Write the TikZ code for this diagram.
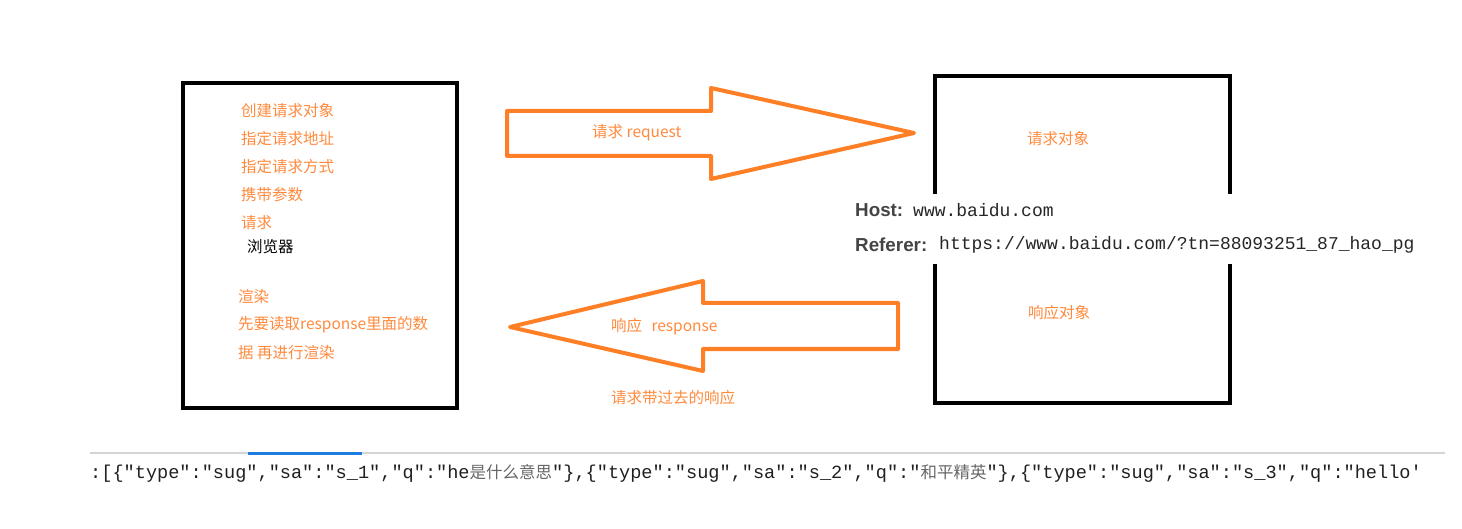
\documentclass[tikz,border=0pt]{standalone}
\usepackage{fontspec}
\newfontfamily\cjk{Noto Sans CJK SC}
\newfontfamily\hsans{Liberation Sans}
\setmonofont{Liberation Mono}
\definecolor{orng}{HTML}{FF7F27}
\definecolor{otext}{HTML}{FF8A3D}
\definecolor{hgray}{HTML}{444444}
\definecolor{cg}{HTML}{666666}
\definecolor{rule}{HTML}{D4D4D4}
\definecolor{tabblue}{HTML}{1E7BE0}
\begin{document}
\begin{tikzpicture}[x=1pt,y=-1pt,
  box/.style={draw=black,line width=4pt,inner sep=0pt},
  lbl/.style={font=\cjk\fontsize{15.5}{18}\selectfont,text=otext,anchor=west,inner sep=0pt},
  blockarrow/.style={draw=orng,line width=4pt,line join=round,fill=white},
  hdrlbl/.style={font=\hsans\bfseries\fontsize{18.8}{20}\selectfont,text=hgray,anchor=west,inner sep=0pt},
  hdrval/.style={font=\ttfamily\fontsize{18}{20}\selectfont,text=black!85,anchor=west,inner sep=0pt}]
\useasboundingbox (0,0) rectangle (1462,529);

% left box (browser)
\node[box,minimum width=274pt,minimum height=325pt] (browser) at (320,245.5) {};
\node[lbl] (l1) at (241,111) {创建请求对象};
\node[lbl] (l2) at (241,139) {指定请求地址};
\node[lbl] (l3) at (241,167) {指定请求方式};
\node[lbl] (l4) at (241,195) {携带参数};
\node[lbl] (l5) at (241,223) {请求};
\node[lbl,text=black] (l6) at (247,247) {浏览器};
\node[lbl] (l7) at (238,297) {渲染};
\node[lbl] (l8) at (238,325) {先要读取response里面的数};
\node[lbl] (l9) at (238,353) {据 再进行渲染};

% request arrow
\draw[blockarrow] (507,111) -- (711,111) -- (711,88) -- (914,133) -- (711,179) -- (711,156) -- (507,156) -- cycle;
\node[lbl] (req) at (592,133) {请求 request};

% response arrow
\draw[blockarrow] (898,303) -- (703,303) -- (703,281) -- (510,327) -- (703,371) -- (703,349) -- (898,349) -- cycle;
\node[lbl] (resp) at (611,327) {响应\hspace{0.6em}response};
\node[lbl] (resp2) at (611,398) {请求带过去的响应};

% right box (server)
\node[box,minimum width=295pt,minimum height=327pt] (server) at (1082.5,239.5) {};
\node[lbl] (r1) at (1027,139) {请求对象};
\node[lbl] (r2) at (1028,313) {响应对象};

% header overlay
\node[fill=white,inner sep=0pt,minimum width=580pt,minimum height=70pt] (hdr) at (1135,229.5) {};
\node[hdrlbl] (hostk) at (855,210) {Host:};
\node[hdrval] (hostv) at (913,210) {www.baidu.com};
\node[hdrlbl] (refk) at (855,245) {Referer:};
\node[hdrval] (refv) at (939,245) {https://www.baidu.com/?tn=88093251\_87\_hao\_pg};

% bottom strip
\draw[rule,line width=2pt] (90,453) -- (1445,453);
\draw[tabblue,line width=3pt] (248,453) -- (362,453);
\node[anchor=west,inner sep=0pt,font=\ttfamily\fontsize{18.6}{20}\selectfont,text=black!88] (json) at (90,473)
 {:[\{"type":"sug","sa":"s\_1","q":"he{\cjk\fontsize{16.5}{18}\selectfont\color{cg}是什么意思}"\},\{"type":"sug","sa":"s\_2","q":"{\cjk\fontsize{16.5}{18}\selectfont\color{cg}和平精英}"\},\{"type":"sug","sa":"s\_3","q":"hello\textquotesingle};
\end{tikzpicture}
\end{document}
